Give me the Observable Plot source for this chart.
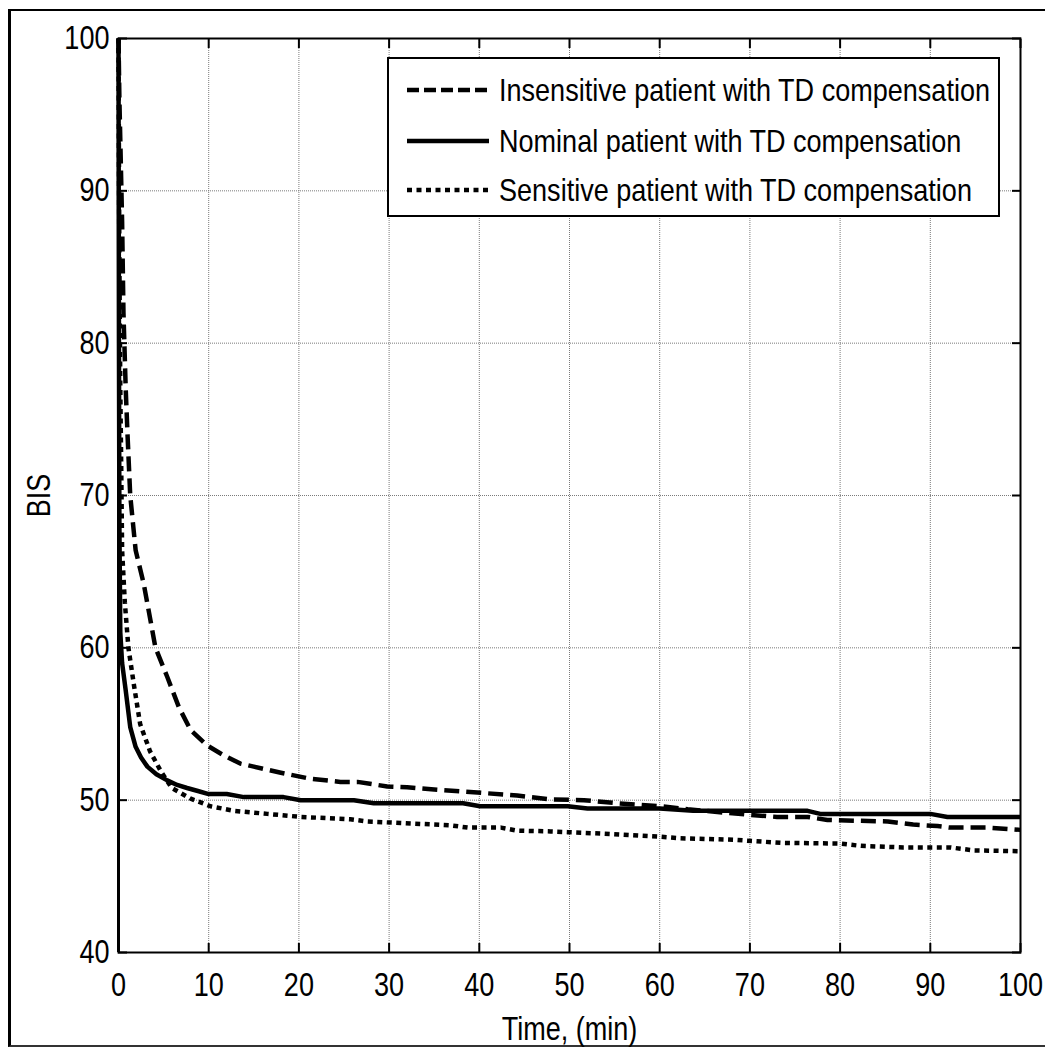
<!DOCTYPE html>
<html>
<head>
<meta charset="utf-8">
<script src="https://cdn.jsdelivr.net/npm/d3@7"></script>
<script src="https://cdn.jsdelivr.net/npm/@observablehq/plot@0.6"></script>
<style>
  html, body { margin: 0; padding: 0; background: #fff; width: 1045px; height: 1048px; overflow: hidden; }
  #wrap { position: relative; width: 1045px; height: 1048px; overflow: hidden; }
  #outer { position: absolute; left: 8px; top: 9px; width: 1100px; height: 1034px;
           border-left: 3px solid #000; border-top: 2px solid #000; border-bottom: 2px solid #333; }
  #chart { position: absolute; left: 0; top: 0; }
  #legend { position: absolute; left: 387px; top: 57px; width: 613px; height: 160px;
            background: #fff; border: 2px solid #000; box-sizing: border-box;
            font-family: "Liberation Sans", Arial, sans-serif;
            font-size: 32px; color: #000; }
  .row { position: absolute; left: 0; height: 40px; display: flex; align-items: center; white-space: nowrap; }
  .row svg { margin-left: 18px; margin-right: 10px; flex: none; }
  .row span { display: inline-block; transform: scaleX(0.845); transform-origin: left center; white-space: nowrap; }
</style>
</head>
<body>
<div id="wrap">
  <div id="outer"></div>
  <div id="chart"></div>
  <div id="legend"></div>
</div>
<script>
// ---- data ----
const seriesNames = [
  "Insensitive patient with TD compensation",
  "Nominal patient with TD compensation",
  "Sensitive patient with TD compensation"
];

const timeInsensitive = [0, 0.1, 0.25, 0.4, 0.55, 0.8, 1.0, 1.3, 1.9, 2.8, 4.1, 5.4, 6.7, 8, 9.8, 11.5, 13.5, 15, 18, 21.3, 24.6, 26.5, 29.8, 32, 35, 39.8, 44.2, 47.9, 51.6, 55.3, 60.1, 63.1, 69.7, 73, 76.4, 78.6, 85.3, 88.1, 90.8, 92.2, 96.3, 100];
const bisInsensitive  = [100, 96, 92, 88, 82, 77, 74, 70, 66.4, 64.2, 60, 58.1, 56.1, 54.6, 53.6, 53.0, 52.4, 52.2, 51.8, 51.4, 51.2, 51.2, 50.9, 50.85, 50.7, 50.5, 50.3, 50.05, 50.0, 49.8, 49.6, 49.4, 49.05, 48.9, 48.9, 48.7, 48.6, 48.4, 48.3, 48.2, 48.2, 48.05];

const timeNominal = [0, 0.05, 0.1, 0.2, 0.4, 0.8, 1.3, 1.9, 2.5, 3.2, 4.2, 5.4, 6.5, 7.6, 8.8, 10, 12, 13.9, 18.3, 20.2, 26.1, 28.3, 38.2, 40.1, 49.8, 52, 60, 63.7, 76.4, 77.8, 90, 91.9, 100];
const bisNominal  = [100, 80, 68, 61, 59, 57.2, 54.8, 53.5, 52.8, 52.2, 51.7, 51.3, 51.0, 50.8, 50.6, 50.4, 50.4, 50.2, 50.2, 50.0, 50.0, 49.8, 49.8, 49.6, 49.6, 49.45, 49.45, 49.3, 49.3, 49.1, 49.1, 48.9, 48.9];

const timeSensitive = [0, 0.05, 0.1, 0.2, 0.3, 0.4, 0.7, 1.1, 1.7, 2.4, 3.5, 4.7, 5.9, 8, 10.2, 12.8, 16.5, 20.2, 25.7, 27.6, 31.3, 36.8, 38.7, 42.4, 44.2, 47.9, 49.8, 53.8, 60.1, 62.3, 68.2, 73.4, 80, 82.3, 87, 92.2, 94.8, 100];
const bisSensitive  = [100, 92, 85, 77, 72, 66.4, 63, 60, 57.6, 55.0, 53.2, 51.9, 50.8, 50.1, 49.6, 49.3, 49.1, 48.9, 48.75, 48.6, 48.5, 48.35, 48.2, 48.2, 48.0, 47.95, 47.9, 47.8, 47.6, 47.5, 47.4, 47.2, 47.15, 47.0, 46.9, 46.9, 46.7, 46.65];

const xTicks = [0, 10, 20, 30, 40, 50, 60, 70, 80, 90, 100];
const yTicks = [40, 50, 60, 70, 80, 90, 100];

// ---- styles ----
const FONT = '"Liberation Sans", Arial, sans-serif';
const NARROW = 0.82;
const dashes = ["15,7", null, "5,4.5"];
const legendDashes = ["12,5", null, "5,4.5"];

const zip = (ts, vs) => ts.map((t, i) => ({t, v: vs[i]}));
const series = [
  zip(timeInsensitive, bisInsensitive),
  zip(timeNominal, bisNominal),
  zip(timeSensitive, bisSensitive)
];

const gridStyle = {stroke: "#7a7a7a", strokeOpacity: 1, strokeWidth: 1, strokeDasharray: "1,1"};

const chart = Plot.plot({
  width: 1045,
  height: 1048,
  marginLeft: 118,
  marginRight: 25,
  marginTop: 38,
  marginBottom: 96,
  style: {fontFamily: FONT, fontSize: "33px", background: "transparent", color: "#000"},
  x: {domain: [0, 100]},
  y: {domain: [40, 100]},
  marks: [
    Plot.gridX(xTicks.slice(1, -1), gridStyle),
    Plot.gridY(yTicks.slice(1, -1), gridStyle),
    ...series.map((d, i) => Plot.line(d, {
      x: "t", y: "v", stroke: "#000", strokeWidth: 4.5,
      strokeDasharray: dashes[i], strokeLinecap: "butt", strokeLinejoin: "round"
    })),
    Plot.frame({stroke: "#000", strokeWidth: 2}),
    Plot.ruleX([0], {stroke: "#000", strokeWidth: 3}),
    // labels
    Plot.axisX({anchor: "bottom", ticks: xTicks, tickSize: 0, tickPadding: 20, fontSize: 33,
      label: "Time, (min)", labelAnchor: "center", labelArrow: "none", labelOffset: 87}),
    Plot.axisY({anchor: "left", ticks: yTicks, tickSize: 0, tickPadding: 9, fontSize: 33,
      label: "BIS", labelAnchor: "center", labelArrow: "none", labelOffset: 92}),
    // inward MATLAB-style ticks
    Plot.axisX({anchor: "bottom", ticks: xTicks, tickSize: -9, tickFormat: () => "", label: null, strokeWidth: 2}),
    Plot.axisX({anchor: "top", ticks: xTicks, tickSize: -9, tickFormat: () => "", label: null, strokeWidth: 2}),
    Plot.axisY({anchor: "left", ticks: yTicks, tickSize: -9, tickFormat: () => "", label: null, strokeWidth: 2}),
    Plot.axisY({anchor: "right", ticks: yTicks, tickSize: -9, tickFormat: () => "", label: null, strokeWidth: 2})
  ]
});

// condense all SVG texts horizontally (narrow sans look of the original);
// Plot positions texts via transform, the em offsets in x/y stay untouched
chart.querySelectorAll("text").forEach((t) => {
  const tr = t.getAttribute("transform") || "";
  t.setAttribute("transform", `${tr} scale(${NARROW},1)`);
});
document.getElementById("chart").appendChild(chart);

// ---- legend ----
const legend = document.getElementById("legend");
const rowTops = [11, 62, 111];
seriesNames.forEach((name, i) => {
  const row = document.createElement("div");
  row.className = "row";
  row.style.top = rowTops[i] + "px";
  const dash = legendDashes[i] ? ` stroke-dasharray="${legendDashes[i]}"` : "";
  row.innerHTML = `<svg width="82" height="10"><line x1="0" y1="5" x2="82" y2="5" stroke="#000" stroke-width="4.5"${dash}/></svg><span>${name}</span>`;
  legend.appendChild(row);
});
</script>
</body>
</html>
